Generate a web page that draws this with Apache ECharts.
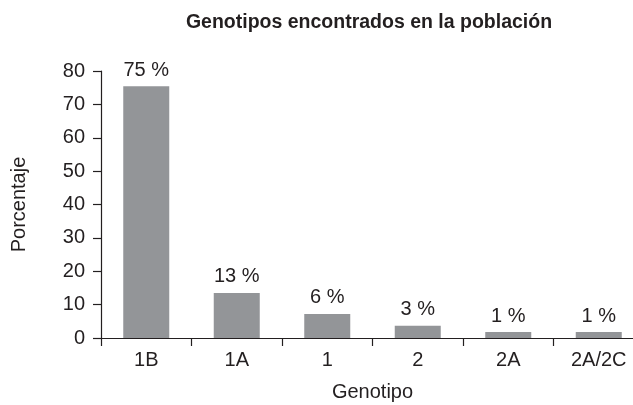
<!DOCTYPE html>
<html>
<head>
<meta charset="utf-8">
<script src="https://cdn.jsdelivr.net/npm/echarts@6/dist/echarts.min.js"></script>
<style>
    html, body { margin: 0; padding: 0; background: #fff; }
    #chart { width: 633px; height: 405px; }
</style>
</head>
<body>
<div id="chart"></div>
<script>
const categories = ['1B', '1A', '1', '2', '2A', '2A/2C'];
const values = [75.4, 13.5, 7.2, 3.7, 1.8, 1.8];
const labels = ['75 %', '13 %', '6 %', '3 %', '1 %', '1 %'];

const font = '"Liberation Sans Narrow", "Liberation Sans", Arial, sans-serif';
const ink = '#231f20';

var chart = echarts.init(document.getElementById('chart'));
chart.setOption({
    animation: false,
    textStyle: { fontFamily: font, color: ink },
    title: {
        text: 'Genotipos encontrados en la población',
        left: 364,
        top: 8,
        textAlign: 'center',
        textStyle: { fontFamily: font, fontSize: 19.5, fontWeight: 'bold', color: ink }
    },
    grid: { left: 101, right: -11, top: 71, bottom: 67, outerBoundsMode: 'none', containLabel: false },
    xAxis: {
        type: 'category',
        data: categories,
        name: 'Genotipo',
        nameLocation: 'middle',
        nameGap: 44,
        nameTextStyle: { fontFamily: font, fontSize: 20, color: ink },
        axisLine: { lineStyle: { color: ink, width: 1.2 } },
        axisTick: { show: true, length: 8, alignWithLabel: false, lineStyle: { color: ink, width: 1.2 } },
        axisLabel: { fontFamily: font, fontSize: 20, color: ink, margin: 12 }
    },
    yAxis: {
        type: 'value',
        min: 0,
        max: 80,
        interval: 10,
        name: 'Porcentaje',
        nameLocation: 'middle',
        nameGap: 72,
        nameTextStyle: { fontFamily: font, fontSize: 20, color: ink },
        splitLine: { show: false },
        axisLine: { show: true, lineStyle: { color: ink, width: 1.2 } },
        axisTick: { show: true, length: 8, lineStyle: { color: ink, width: 1.2 } },
        axisLabel: { fontFamily: font, fontSize: 20, color: ink, margin: 16 }
    },
    series: [{
        type: 'bar',
        data: values,
        barWidth: 46,
        itemStyle: { color: '#939598' },
        label: {
            show: true,
            position: 'top',
            distance: 6,
            fontFamily: font,
            fontSize: 20,
            color: ink,
            formatter: function (p) { return labels[p.dataIndex]; }
        }
    }]
});
</script>
</body>
</html>
